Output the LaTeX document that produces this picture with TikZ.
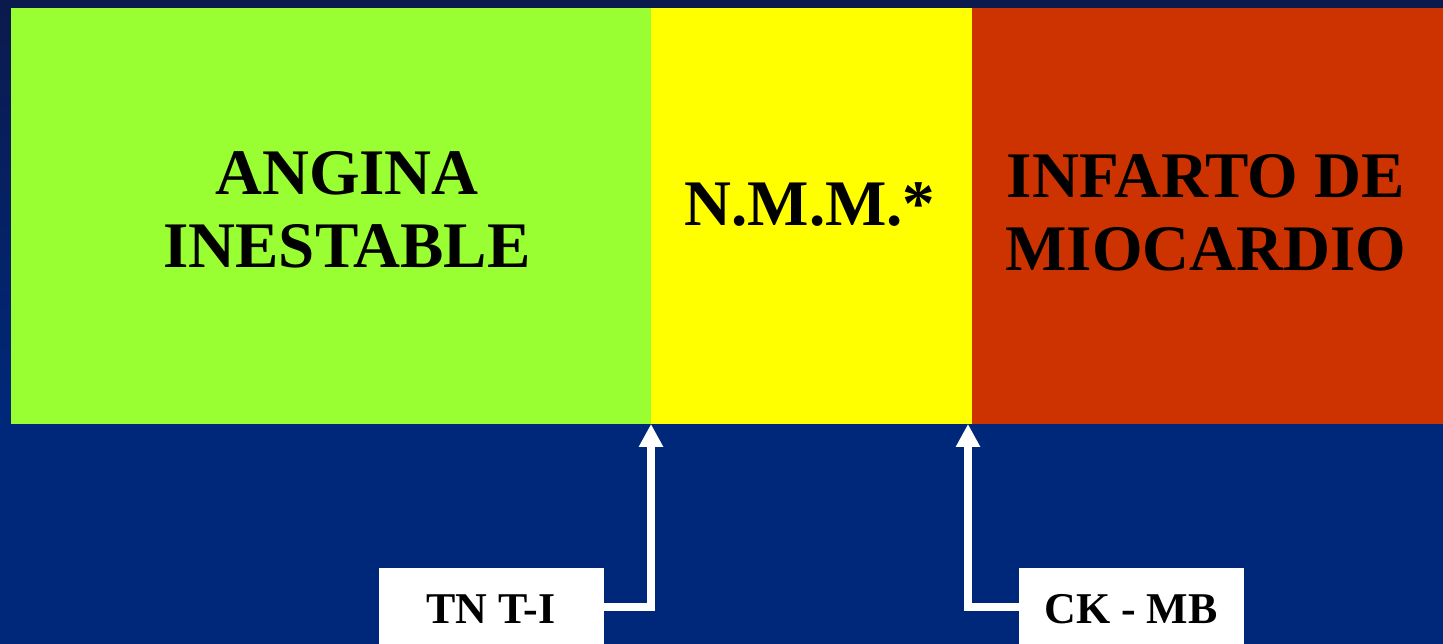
\documentclass[tikz,border=0pt]{standalone}
\usepackage{fontspec}
\setmainfont{Liberation Serif}
\usetikzlibrary{arrows.meta}
\definecolor{navy}{HTML}{00287A}
\definecolor{navytop}{HTML}{0B1A4D}
\definecolor{lime}{HTML}{99FF33}
\definecolor{sun}{HTML}{FFFF00}
\definecolor{brick}{HTML}{CC3300}
\tikzset{
  title/.style={font=\fontsize{37}{41.5}\selectfont\bfseries, align=center, text=black},
  tag/.style={fill=white, draw=none, inner sep=0pt, outer sep=0pt, minimum width=225*0.02cm, minimum height=76*0.02cm, anchor=north west},
  tagtext/.style={font=\fontsize{25}{28}\selectfont\bfseries, text=black},
  marker/.style={draw=white, line width=8*0.567pt, -{Triangle[width=23*0.567pt, length=23*0.567pt]}}
}
\begin{document}
\begin{tikzpicture}[x=0.02cm, y=-0.02cm]
  % canvas
  \useasboundingbox (0,0) rectangle (1443,644);
  \fill[navy] (0,0) rectangle (1443,644);
  \shade[top color=navytop, bottom color=navy] (0,0) rectangle (11,424);
  \fill[navytop] (0,0) rectangle (1443,8);
  % coloured bands
  \fill[lime] (11,8) rectangle (651,424);
  \fill[sun] (651,8) rectangle (972,424);
  \fill[brick] (972,8) rectangle (1443,424);
  \node[title] (ai) at (347,210) {ANGINA\\INESTABLE};
  \node[title] (nmm) at (810,205) {N.M.M.*};
  \node[title] (im) at (1206,213) {INFARTO DE\\MIOCARDIO};
  \coordinate (b1) at (651,424);
  \coordinate (b2) at (968,424);
  % marker labels
  \node[tag] (tn) at (379,568) {};
  \node[tagtext] (tnt) at (491,609) {TN T-I};
  \node[tag] (ck) at (1019,568) {};
  \node[tagtext] (ckt) at (1131,609) {CK - MB};
  % arrows to the band boundaries
  \draw[marker] (tn.east |- 0,607) -- (651,607) -- (b1);
  \draw[marker] (ck.west |- 0,607) -- (968,607) -- (b2);
\end{tikzpicture}
\end{document}
